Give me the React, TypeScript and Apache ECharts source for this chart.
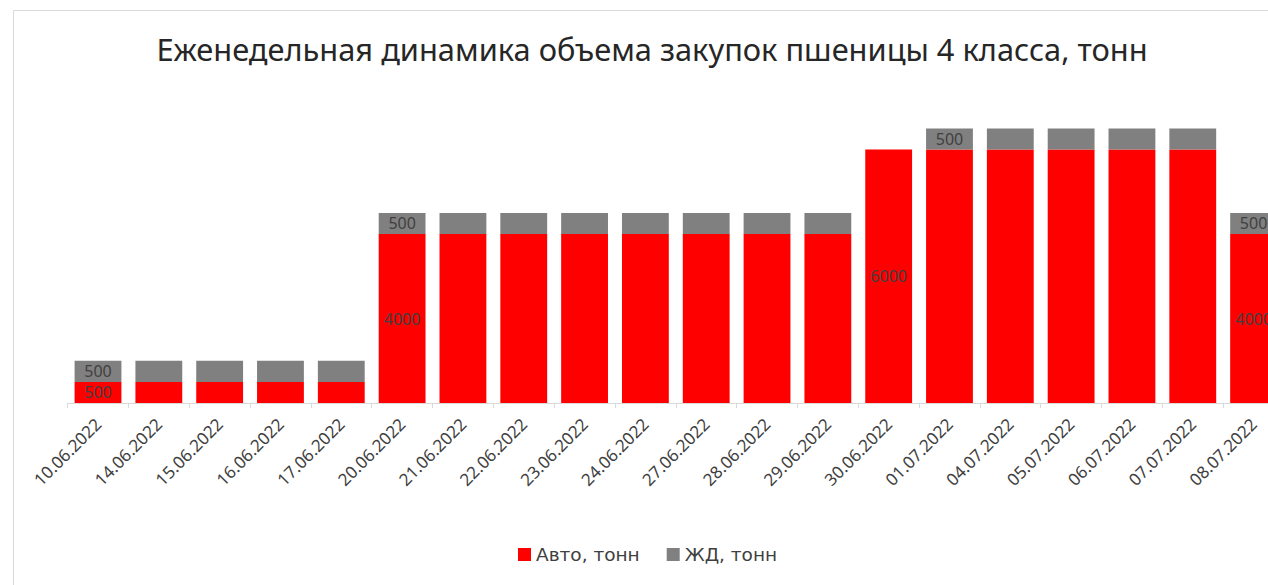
import React, { useEffect, useRef } from "react";
import * as echarts from "echarts";

const categories = [
  "10.06.2022", "14.06.2022", "15.06.2022", "16.06.2022", "17.06.2022",
  "20.06.2022", "21.06.2022", "22.06.2022", "23.06.2022", "24.06.2022",
  "27.06.2022", "28.06.2022", "29.06.2022", "30.06.2022", "01.07.2022",
  "04.07.2022", "05.07.2022", "06.07.2022", "07.07.2022", "08.07.2022",
];
const autoValues = [500, 500, 500, 500, 500, 4000, 4000, 4000, 4000, 4000, 4000, 4000, 4000, 6000, 6000, 6000, 6000, 6000, 6000, 4000];
const railValues = [500, 500, 500, 500, 500, 500, 500, 500, 500, 500, 500, 500, 500, 0, 500, 500, 500, 500, 500, 500];
const autoLabeled = [0, 5, 13, 19];
const railLabeled = [0, 5, 14, 19];

const FONT = "'Noto Sans', 'Open Sans', sans-serif";
const LEGEND_FONT = "'DejaVu Sans', sans-serif";

export default function App() {
  const ref = useRef<HTMLDivElement>(null);
  useEffect(() => {
    if (!ref.current) return;
    const chart = echarts.init(ref.current, null, { renderer: "svg" });
    const lbl = { show: true, position: "inside", color: "#404040", fontSize: 16, fontFamily: FONT };
    chart.setOption({
      animation: false,
      backgroundColor: "#fff",
      textStyle: { fontFamily: FONT },
      title: {
        text: "Еженедельная динамика объема закупок пшеницы 4 класса, тонн",
        left: 647,
        textAlign: "center",
        top: 28,
        textStyle: { fontSize: 30.8, fontWeight: "normal", color: "#262626", fontFamily: FONT },
      },
      graphic: [
        {
          type: "rect",
          shape: { x: 13.5, y: 10.5, width: 1300, height: 600 },
          style: { fill: "none", stroke: "#d9d9d9", lineWidth: 1 },
          silent: true,
          z: -10,
        },
      ],
      legend: {
        left: 513,
        top: 540,
        itemWidth: 13,
        itemHeight: 13,
        itemGap: 27,
        icon: "rect",
        textStyle: { fontSize: 18.5, color: "#404040", fontFamily: LEGEND_FONT },
        data: ["Авто, тонн", "ЖД, тонн"],
      },
      grid: { left: 67.6, right: 0, top: 107.25, bottom: 182 },
      xAxis: {
        type: "category",
        data: categories,
        axisLine: { lineStyle: { color: "#d9d9d9" } },
        axisTick: { show: true, length: 5, lineStyle: { color: "#d9d9d9" } },
        axisLabel: { rotate: 45, fontSize: 17, color: "#404040", margin: 18, interval: 0, fontFamily: FONT },
      },
      yAxis: { type: "value", min: 0, max: 7000, show: false, splitLine: { show: false } },
      series: [
        {
          name: "Авто, тонн",
          type: "bar",
          stack: "total",
          barCategoryGap: "23%",
          itemStyle: { color: "#ff0000" },
          data: autoValues.map((v, i) => ({
            value: v,
            label: autoLabeled.includes(i) ? lbl : { show: false },
          })),
        },
        {
          name: "ЖД, тонн",
          type: "bar",
          stack: "total",
          barCategoryGap: "23%",
          itemStyle: { color: "#808080" },
          data: railValues.map((v, i) => ({
            value: v,
            label: railLabeled.includes(i) ? lbl : { show: false },
          })),
        },
      ],
    });
    return () => chart.dispose();
  }, []);
  return (
    <div style={{ position: "absolute", left: 0, top: 0, width: 1268, height: 585, overflow: "hidden" }}>
      <div ref={ref} style={{ width: 1284, height: 585 }} />
    </div>
  );
}
